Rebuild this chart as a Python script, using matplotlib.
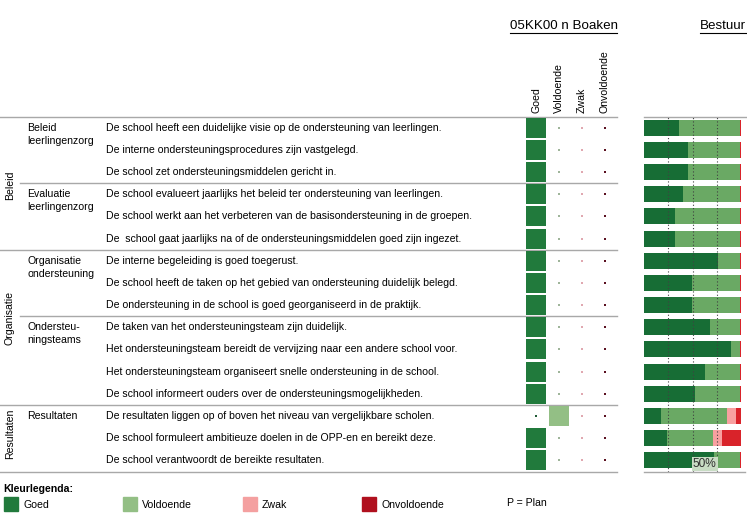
import matplotlib.pyplot as plt
import numpy as np

plt.rcParams['font.family'] = ['Liberation Sans', 'DejaVu Sans']

# statements, one per row
statements = [
    "De school heeft een duidelijke visie op de ondersteuning van leerlingen.",
    "De interne ondersteuningsprocedures zijn vastgelegd.",
    "De school zet ondersteuningsmiddelen gericht in.",
    "De school evalueert jaarlijks het beleid ter ondersteuning van leerlingen.",
    "De school werkt aan het verbeteren van de basisondersteuning in de groepen.",
    "De  school gaat jaarlijks na of de ondersteuningsmiddelen goed zijn ingezet.",
    "De interne begeleiding is goed toegerust.",
    "De school heeft de taken op het gebied van ondersteuning duidelijk belegd.",
    "De ondersteuning in de school is goed georganiseerd in de praktijk.",
    "De taken van het ondersteuningsteam zijn duidelijk.",
    "Het ondersteuningsteam bereidt de vervijzing naar een andere school voor.",
    "Het ondersteuningsteam organiseert snelle ondersteuning in de school.",
    "De school informeert ouders over de ondersteuningsmogelijkheden.",
    "De resultaten liggen op of boven het niveau van vergelijkbare scholen.",
    "De school formuleert ambitieuze doelen in de OPP-en en bereikt deze.",
    "De school verantwoordt de bereikte resultaten.",
]

# (label, first row, number of rows)
groups = [("Beleid", 0, 6), ("Organisatie", 6, 7), ("Resultaten", 13, 3)]
subgroups = [("Beleid\nleerlingenzorg", 0, 3), ("Evaluatie\nleerlingenzorg", 3, 3),
             ("Organisatie\nondersteuning", 6, 3), ("Ondersteu-\nningsteams", 9, 4),
             ("Resultaten", 13, 3)]

categories = ["Goed", "Voldoende", "Zwak", "Onvoldoende"]
colors = ["#217a3c", "#93bf85", "#f4a0a0", "#b0101e"]
dot_colors = ["#1f5a35", "#9fb59a", "#e0a8b0", "#5a1020"]

# school score (index into categories) per statement
school = [0, 0, 0, 0, 0, 0, 0, 0, 0, 0, 0, 0, 0, 1, 0, 0]

# bestuur distribution in percent
b_goed = [36, 45, 45, 40, 32, 32, 76, 49.5, 49.5, 68, 90, 63, 53, 17.5, 23.5, 72.5]
b_vold = [63.4, 54.4, 54.4, 59.4, 67.4, 67.4, 23.4, 49.9, 49.9, 31.4, 9.4, 36.4, 46.4, 68, 47.2, 26.9]
b_zwak = [0, 0, 0, 0, 0, 0, 0, 0, 0, 0, 0, 0, 0, 9.5, 9.6, 0]
b_onv = [0.6, 0.6, 0.6, 0.6, 0.6, 0.6, 0.6, 0.6, 0.6, 0.6, 0.6, 0.6, 0.6, 5, 19.7, 0.6]
bar_colors = ["#176d35", "#6aa964", "#f8a0a0", "#d9232a"]

W, H = 747, 524
top, bottom = 116.5, 471.5
pitch = (bottom - top) / len(statements)

def row_y(i):
    return top + (i + 0.5) * pitch

fig = plt.figure(figsize=(W / 100, H / 100), dpi=100)
ax = fig.add_axes([0, 0, 1, 1])
ax.set_xlim(0, W)
ax.set_ylim(H, 0)
ax.axis('off')

fs = 7.6
line_c = "#a8a8a8"

# titles
ax.text(563.5, 26, "05KK00 n Boaken", fontsize=9.6, ha='center', va='center')
ax.plot([510, 617], [33, 33], color='black', lw=0.8)
ax.text(700, 26, "Bestuur", fontsize=9.6, ha='left', va='center')
ax.plot([700, 746], [33, 33], color='black', lw=0.8)

# column headers
col_x = [536, 559, 582, 605]
for cx, cat in zip(col_x, categories):
    ax.text(cx, 113, cat, rotation=90, fontsize=fs, ha='center', va='bottom')

# table lines
ax.plot([0, 617], [top, top], color=line_c, lw=1)
shift = {"Beleid": 2, "Organisatie": -9, "Resultaten": -4}
for lab, start, n in groups:
    yb = top + (start + n) * pitch
    ax.plot([0, 617], [yb, yb], color=line_c, lw=1)
    ax.text(10, top + (start + n / 2) * pitch + shift[lab], lab,
            rotation=90, fontsize=fs, ha='center', va='center')
for lab, start, n in subgroups:
    ax.text(27, row_y(start) - 5, lab, fontsize=fs, ha='left', va='top', linespacing=1.4)
    if start not in [g[1] for g in groups]:
        yb = top + start * pitch
        ax.plot([20, 617], [yb, yb], color=line_c, lw=1)

for i, s in enumerate(statements):
    ax.text(106, row_y(i), s, fontsize=fs, ha='left', va='center')

# school score squares
axs = fig.add_axes([524.5 / W, 1 - bottom / H, 92 / W, (bottom - top) / H])
axs.set_xlim(-0.5, 3.5)
axs.set_ylim(len(statements) - 0.5, -0.5)
axs.axis('off')
rows = np.arange(len(statements))
for c in range(len(categories)):
    hit = [r for r in rows if school[r] == c]
    axs.bar([c] * len(hit), 0.9, bottom=np.array(hit) - 0.45, width=0.83,
            color=colors[c], align='center')
    miss = [r for r in rows if school[r] != c]
    axs.scatter([c] * len(miss), miss, marker='s', s=2.5, color=dot_colors[c], lw=0)

# bestuur stacked bars
axb = fig.add_axes([644 / W, 1 - bottom / H, 97 / W, (bottom - top) / H])
axb.set_xlim(0, 100)
axb.set_ylim(len(statements) - 0.5, -0.5)
axb.axis('off')
left = np.zeros(len(statements))
for vals, col in zip([b_goed, b_vold, b_zwak, b_onv], bar_colors):
    axb.barh(rows, vals, left=left, height=0.72, color=col, lw=0, zorder=2)
    left += np.array(vals)
for gx in [25, 50, 75]:
    axb.axvline(gx, color='#404040', lw=0.8, ls=(0, (1, 2)), zorder=3)
axb.text(50.5, 15.15, "50%", fontsize=8.6, color='#303030', ha='left', va='center', zorder=4,
         bbox=dict(boxstyle='square,pad=0.08', fc='#c8dcc4', ec='none'))
ax.plot([644, 747], [top, top], color=line_c, lw=1)
ax.plot([644, 745], [bottom, bottom], color=line_c, lw=1)

# colour legend
ax.text(3, 489, "Kleurlegenda:", fontsize=fs, fontweight='bold', ha='left', va='center')
leg_x = [4, 123, 243, 362]
for lx, cat, col in zip(leg_x, categories, colors):
    ax.add_patch(plt.Rectangle((lx, 497), 14, 14, color=col))
    ax.text(lx + 19, 505, cat, fontsize=fs, ha='left', va='center')
ax.text(507, 503, "P = Plan", fontsize=fs, ha='left', va='center')

fig.savefig("out.png", dpi=100)
